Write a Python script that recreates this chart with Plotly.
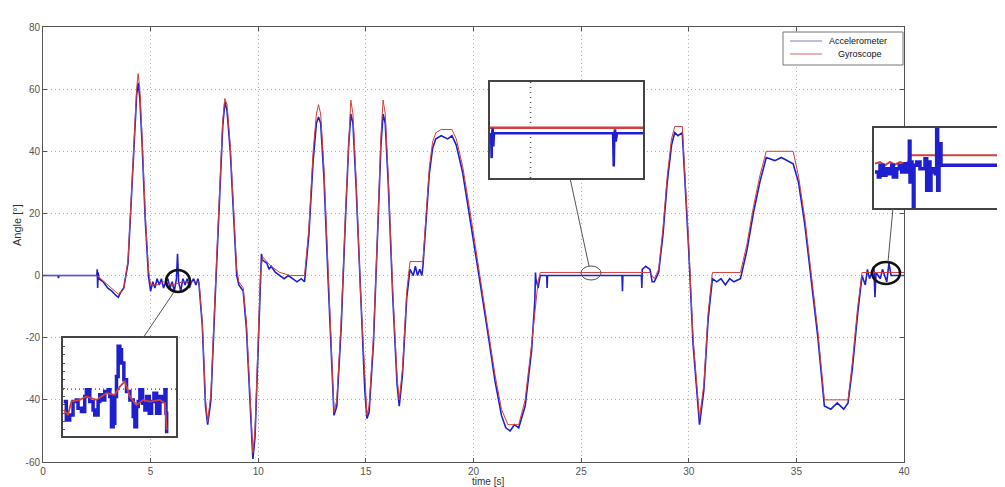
import plotly.graph_objects as go

# page body has an 8px margin, so the figure is drawn 8px smaller and shifted
OFF = 8
W, H = 1005 - OFF, 487 - OFF

# ---------------- main data (time [s], angle [deg]) ----------------
gyro_t = [0, 2.5, 2.6, 3.0, 3.5, 3.75, 3.95, 4.1, 4.25, 4.35, 4.42, 4.5, 4.6, 4.75, 4.9, 5.0, 5.3, 5.6, 6.0, 6.5, 7.0, 7.25,
          7.4, 7.55, 7.65, 7.8, 8.0, 8.2, 8.35, 8.45, 8.55, 8.7, 8.85, 9.0, 9.1, 9.3, 9.45, 9.6, 9.75, 9.85, 10.0, 10.1, 10.2, 10.6, 11.0,
          11.5, 12.15, 12.35, 12.55, 12.7, 12.8, 12.9, 13.05, 13.25, 13.42, 13.52, 13.65, 13.85, 14.05, 14.2, 14.3, 14.4, 14.55, 14.75, 14.95, 15.05, 15.15, 15.35, 15.55, 15.7,
          15.8, 15.9, 16.05, 16.25, 16.45, 16.55, 16.7, 16.9, 17.05, 17.65, 17.8, 17.95, 18.1, 18.25, 18.5, 19.0, 19.2, 19.5, 19.9, 20.3,
          20.7, 21.0, 21.3, 21.6, 22.1, 22.4, 22.7, 23.0, 23.1, 28.2, 28.4, 28.6, 28.8, 29.0, 29.2, 29.35, 29.7, 29.85, 30.0, 30.2,
          30.5, 30.7, 30.9, 31.1, 32.4, 32.7, 33.0, 33.3, 33.6, 34.85, 35.1, 35.4, 35.7, 36.0, 36.3, 37.4, 37.6, 37.85, 38.05, 40]
gyro_a = [0, 0, -0.5, -3, -6, -4.5, 5, 25, 48, 60, 65, 60, 45, 20, 2, -3, -3, -2, -3, -2, -2, -2,
          -15, -40, -47, -38, -5, 28, 50, 57, 55, 42, 20, 2, -2, -4, -15, -38, -57, -50, -20, 0, 6, 3, 1,
          0, 0, 15, 40, 52, 55, 52, 35, 0, -30, -44, -40, -15, 20, 45, 56.5, 52, 30, -5, -35, -45, -42, -20, 15, 45,
          56.5, 52, 30, -5, -33, -40, -30, -5, 4.5, 4.5, 20, 35, 43, 46, 47, 47, 44, 35, 18, 0,
          -18, -32, -43, -48, -48, -40, -22, -2, 1, 1, -1, 2, 15, 32, 44, 48, 48, 30, 10, -20,
          -46, -35, -12, 1, 1, 10, 22, 32, 40, 40, 32, 18, 0, -18, -40, -40, -28, -10, 1, 1]

acc_t = [0, 0.7, 0.72, 0.74, 2.5, 2.52, 2.54, 2.56, 2.6, 2.8, 3.0, 3.2, 3.4, 3.5, 3.6, 3.75, 3.95, 4.1,
         4.25, 4.35, 4.42, 4.5, 4.6, 4.75, 4.9, 5.0, 5.1, 5.2, 5.3, 5.4, 5.5, 5.6, 5.7, 5.8, 5.9, 6.0, 6.1, 6.2, 6.25,
         6.3, 6.4, 6.5, 6.6, 6.7, 6.8, 6.9, 7.0, 7.1, 7.2, 7.25, 7.4, 7.55, 7.65, 7.8, 8.0, 8.2, 8.35, 8.45, 8.55, 8.7, 8.85,
         9.0, 9.1, 9.3, 9.45, 9.6, 9.75, 9.85, 10.0, 10.1, 10.15, 10.2, 10.4, 10.5, 10.6, 10.8, 11.0, 11.2, 11.4,
         11.6, 11.8, 12.0, 12.15, 12.35, 12.55, 12.7, 12.8, 12.9, 13.05, 13.25, 13.42, 13.52, 13.65, 13.85, 14.05, 14.2, 14.3, 14.4, 14.55, 14.75, 14.95, 15.05,
         15.15, 15.35, 15.55, 15.7, 15.8, 15.9, 16.05, 16.25, 16.45, 16.55, 16.7, 16.9, 17.05, 17.2, 17.3, 17.4, 17.5, 17.6, 17.65,
         17.8, 17.95, 18.1, 18.25, 18.5, 18.8, 19.0, 19.2, 19.5, 19.9, 20.3, 20.7, 21.0, 21.3, 21.5, 21.7, 21.9, 22.1, 22.4, 22.7,
         22.85, 22.88, 22.9, 23.0, 23.1, 23.3, 23.4, 23.42, 23.44, 26.9, 26.92, 26.94, 27.8, 27.82,
         27.84, 28.0, 28.2, 28.3, 28.4, 28.6, 28.8, 29.0, 29.2, 29.35, 29.5, 29.7, 29.85, 30.0, 30.2, 30.5, 30.7, 30.9, 31.1,
         31.3, 31.5, 31.7, 31.9, 32.1, 32.4, 32.7, 33.0, 33.3, 33.6, 34.0, 34.3, 34.6, 34.85, 35.1, 35.4, 35.7,
         36.0, 36.3, 36.6, 36.9, 37.2, 37.4, 37.6, 37.85, 38.05, 38.2, 38.3, 38.4, 38.6, 38.65, 38.7, 38.9,
         39.0, 39.2, 39.3, 39.4, 40]
acc_a = [0, 0, -0.8, 0, 0, 2, -4, 1, -1, -2, -4, -5, -6.5, -7, -5.5, -4, 4, 23,
         46, 58, 62, 57, 43, 18, 0, -5, -2, -4, -1, -3, -1, -4, -2, -1, -4, -2, -5, -1, 7,
         -2, -5, -1, -3, -1, -4, -2, -1, -3, -1, -3, -16, -42, -48, -40, -7, 26, 48, 56, 53, 40, 18,
         0, -3, -5, -17, -40, -59, -52, -22, -1, 7, 5, 4, 2, 3, 1, 0, -1, 0,
         -1, -2, -1, -2, 13, 37, 49, 51, 49, 32, -2, -32, -45, -42, -17, 18, 42, 52, 49, 28, -7, -37, -46,
         -44, -22, 13, 42, 52, 49, 28, -7, -35, -42, -32, -7, 2, 0, 3, 0, 2, 0, 3,
         18, 33, 41, 44, 45, 44, 45, 42, 33, 16, -2, -20, -34, -45, -49, -50, -48, -49, -42, -24,
         -8, 1, -1, -4, 0, 0, 0, -4, 0, 0, -5, 0, 0, -4,
         2, 3, 2, -2, -2, 1, 13, 30, 42, 46, 45, 46, 28, 8, -22, -48, -37, -14, -1,
         -2, -1, -3, -1, -2, -1, 8, 20, 30, 38, 37, 38, 37, 36, 30, 16, -2,
         -20, -42, -43, -41, -43, -41, -30, -12, 0, -3, 2, -1, 3, -7, 1, -1,
         2, -2, 4, 0, 0]

x_ticks = [0, 5, 10, 15, 20, 25, 30, 35, 40]
y_ticks = [-60, -40, -20, 0, 20, 40, 60, 80]
legend_names = ["Accelerometer", "Gyroscope"]

# ---------------- inset data (inset units) ----------------
in1_acc_x = [42, 50, 60, 70, 80, 85, 95, 105, 110, 120, 130, 135, 145, 150, 160, 165, 175, 180, 185,
             190, 195, 200, 205, 210, 215, 222, 230, 240, 250, 255, 260, 265, 270, 278, 285, 290, 298,
             305, 312, 320, 330, 340, 345, 348, 350]
in1_acc_y = [215, 270, 255, 215, 210, 235, 245, 200, 180, 215, 240, 255, 215, 195, 210, 185, 180, 200, 290,
             280, 200, 140, 50, 60, 100, 150, 185, 210, 260, 290, 230, 215, 180, 220, 240, 200, 250,
             215, 190, 250, 200, 215, 180, 250, 310]
in1_gyr_x = [42, 55, 65, 90, 110, 140, 170, 195, 210, 225, 240, 260, 280, 300, 330, 345, 350]
in1_gyr_y = [240, 255, 215, 210, 200, 210, 190, 195, 170, 155, 200, 225, 210, 215, 210, 220, 300]

in2_gyr_x = [30, 490]
in2_gyr_y = [173, 173]
in2_acc_x = [33, 35, 36, 38, 40, 42, 400, 402, 404, 406, 408, 410, 412, 490]
in2_acc_y = [190, 265, 190, 175, 230, 190, 190, 290, 190, 178, 215, 190, 190, 190]

in3_gyr_x = [45, 60, 75, 90, 105, 120, 135, 145, 150, 435]
in3_gyr_y = [145, 140, 150, 140, 148, 140, 145, 140, 120, 120]
in3_acc_x = [45, 55, 60, 70, 78, 85, 95, 100, 110, 118, 125, 135, 145, 148, 150, 152, 156, 160, 162,
             170, 180, 195, 200, 203, 207, 210, 213, 220, 226, 230, 233, 237, 240, 243, 435]
in3_acc_y = [170, 185, 150, 180, 160, 175, 150, 185, 160, 150, 170, 145, 170, 78, 200, 140, 160, 275, 150,
             140, 160, 130, 225, 160, 140, 225, 170, 160, 175, 38, 225, 150, 85, 150, 150]

BLUE = "#1f1fd0"
RED = "#d0403c"
FONT = "Liberation Sans, Arial, sans-serif"


def px(x):
    return (x - OFF) / W


def py(y):
    return 1 - (y - OFF) / H


fig = go.Figure()

# main traces
fig.add_trace(go.Scatter(x=acc_t, y=acc_a, mode="lines", name=legend_names[0],
                         line=dict(color=BLUE, width=1.6), xaxis="x", yaxis="y"))
fig.add_trace(go.Scatter(x=gyro_t, y=gyro_a, mode="lines", name=legend_names[1],
                         line=dict(color=RED, width=1), xaxis="x", yaxis="y"))

# inset 1
fig.add_trace(go.Scatter(x=[40, 378], y=[178, 178], mode="lines", showlegend=False,
                         line=dict(color="#444", width=1.2, dash="1px,3px"), xaxis="x2", yaxis="y2"))
fig.add_trace(go.Scatter(x=in1_acc_x, y=in1_acc_y, mode="lines", line_shape="hv", showlegend=False,
                         line=dict(color=BLUE, width=3.5), xaxis="x2", yaxis="y2"))
fig.add_trace(go.Scatter(x=in1_gyr_x, y=in1_gyr_y, mode="lines", showlegend=False,
                         line=dict(color=RED, width=1.8), xaxis="x2", yaxis="y2"))
# inset 2
fig.add_trace(go.Scatter(x=[152, 152], y=[35, 325], mode="lines", showlegend=False,
                         line=dict(color="#555", width=1.5, dash="1px,4px"), xaxis="x3", yaxis="y3"))
fig.add_trace(go.Scatter(x=in2_gyr_x, y=in2_gyr_y, mode="lines", showlegend=False,
                         line=dict(color=RED, width=2.5), xaxis="x3", yaxis="y3"))
fig.add_trace(go.Scatter(x=in2_acc_x, y=in2_acc_y, mode="lines", showlegend=False,
                         line=dict(color=BLUE, width=2.5), xaxis="x3", yaxis="y3"))
# inset 3
fig.add_trace(go.Scatter(x=in3_gyr_x, y=in3_gyr_y, mode="lines", showlegend=False,
                         line=dict(color=RED, width=2), xaxis="x4", yaxis="y4"))
fig.add_trace(go.Scatter(x=in3_acc_x, y=in3_acc_y, mode="lines", line_shape="hv", showlegend=False,
                         line=dict(color=BLUE, width=3.5), xaxis="x4", yaxis="y4"))

axis_font = dict(family=FONT, size=10, color="#555")

main_x = dict(domain=[px(43), px(904)], range=[0, 40], tickvals=x_ticks,
              ticktext=[str(v) for v in x_ticks], showgrid=True, gridcolor="#b0b0b0",
              griddash="1px,3px", gridwidth=1, zeroline=False, showline=True, linecolor="#555",
              linewidth=1, mirror="allticks", ticks="inside", ticklen=4, tickcolor="#555",
              tickfont=axis_font, anchor="y", fixedrange=True, automargin=False)
main_y = dict(domain=[py(462), py(27)], range=[-60, 80], tickvals=y_ticks,
              ticktext=[str(v) for v in y_ticks], showgrid=True, gridcolor="#b0b0b0",
              griddash="1px,3px", gridwidth=1, zeroline=False, showline=True, linecolor="#555",
              linewidth=1, mirror="allticks", ticks="inside", ticklen=4, tickcolor="#555",
              tickfont=axis_font, anchor="x", fixedrange=True, automargin=False)


def inset_axes(xd, yd, xr, yr, anchor_x, anchor_y, yticks=False):
    ax = dict(domain=xd, range=xr, showgrid=False, zeroline=False, showline=True,
              linecolor="#444", linewidth=1.5, mirror=True, showticklabels=False,
              ticks="", anchor=anchor_y, fixedrange=True, automargin=False)
    ay = dict(domain=yd, range=yr, showgrid=False, zeroline=False, showline=True,
              linecolor="#444", linewidth=1.5, mirror=True, showticklabels=False,
              ticks="inside" if yticks else "", ticklen=2, dtick=25, tickcolor="#555",
              anchor=anchor_x, fixedrange=True, automargin=False)
    return ax, ay


x2, y2 = inset_axes([px(63), px(176)], [py(436), py(338)], [40, 378], [318, 25], "x2", "y2", True)
x3, y3 = inset_axes([px(490), px(643)], [py(178), py(82)], [30, 490], [325, 35], "x3", "y3")
x4, y4 = inset_axes([px(874), px(1004)], [py(208), py(128)], [42, 432], [278, 38], "x4", "y4")

shapes = [
    # circles
    dict(type="circle", xref="paper", yref="paper", x0=px(166), x1=px(190), y0=py(292), y1=py(270),
         line=dict(color="#111", width=2.5), layer="above"),
    dict(type="circle", xref="paper", yref="paper", x0=px(581), x1=px(601), y0=py(280), y1=py(266),
         line=dict(color="#555", width=1), layer="above"),
    dict(type="circle", xref="paper", yref="paper", x0=px(872), x1=px(900), y0=py(284), y1=py(262),
         line=dict(color="#111", width=2.5), layer="above"),
    # connectors
    dict(type="line", xref="paper", yref="paper", x0=px(174), y0=py(292), x1=px(143), y1=py(338),
         line=dict(color="#555", width=1), layer="above"),
    dict(type="line", xref="paper", yref="paper", x0=px(570), y0=py(178), x1=px(589), y1=py(266),
         line=dict(color="#555", width=1), layer="above"),
    dict(type="line", xref="paper", yref="paper", x0=px(888), y0=py(262), x1=px(893), y1=py(208),
         line=dict(color="#555", width=1), layer="above"),
    # legend box and samples
    dict(type="rect", xref="paper", yref="paper", x0=px(783), x1=px(903), y0=py(65), y1=py(32),
         line=dict(color="#777", width=1), fillcolor="white", layer="above"),
    dict(type="line", xref="paper", yref="paper", x0=px(790), x1=px(822), y0=py(41), y1=py(41),
         line=dict(color="#7f7fb8", width=1), layer="above"),
    dict(type="line", xref="paper", yref="paper", x0=px(790), x1=px(822), y0=py(54), y1=py(54),
         line=dict(color="#d06a6a", width=1), layer="above"),
]

annotations = [
    dict(text="Angle [°]", xref="paper", yref="paper", x=px(17), y=py(225), showarrow=False,
         xanchor="center", yanchor="middle",
         textangle=-90, font=dict(family=FONT, size=11, color="#333")),
    dict(text="time [s]", xref="paper", yref="paper", x=px(488), y=py(474), yanchor="top",
         xanchor="center", showarrow=False, font=dict(family=FONT, size=10, color="#333")),
    dict(text=legend_names[0], xref="paper", yref="paper", x=px(858), y=py(41), showarrow=False,
         xanchor="center", yanchor="middle", font=dict(family=FONT, size=9, color="#111")),
    dict(text=legend_names[1], xref="paper", yref="paper", x=px(860), y=py(54), showarrow=False,
         xanchor="center", yanchor="middle", font=dict(family=FONT, size=9, color="#111")),
]

fig.update_layout(
    width=W, height=H, margin=dict(l=0, r=0, t=0, b=0),
    paper_bgcolor="white", plot_bgcolor="white",
    xaxis=main_x, yaxis=main_y,
    xaxis2=x2, yaxis2=y2, xaxis3=x3, yaxis3=y3, xaxis4=x4, yaxis4=y4,
    shapes=shapes, annotations=annotations,
    showlegend=False,
)

fig.write_html("out.html")
